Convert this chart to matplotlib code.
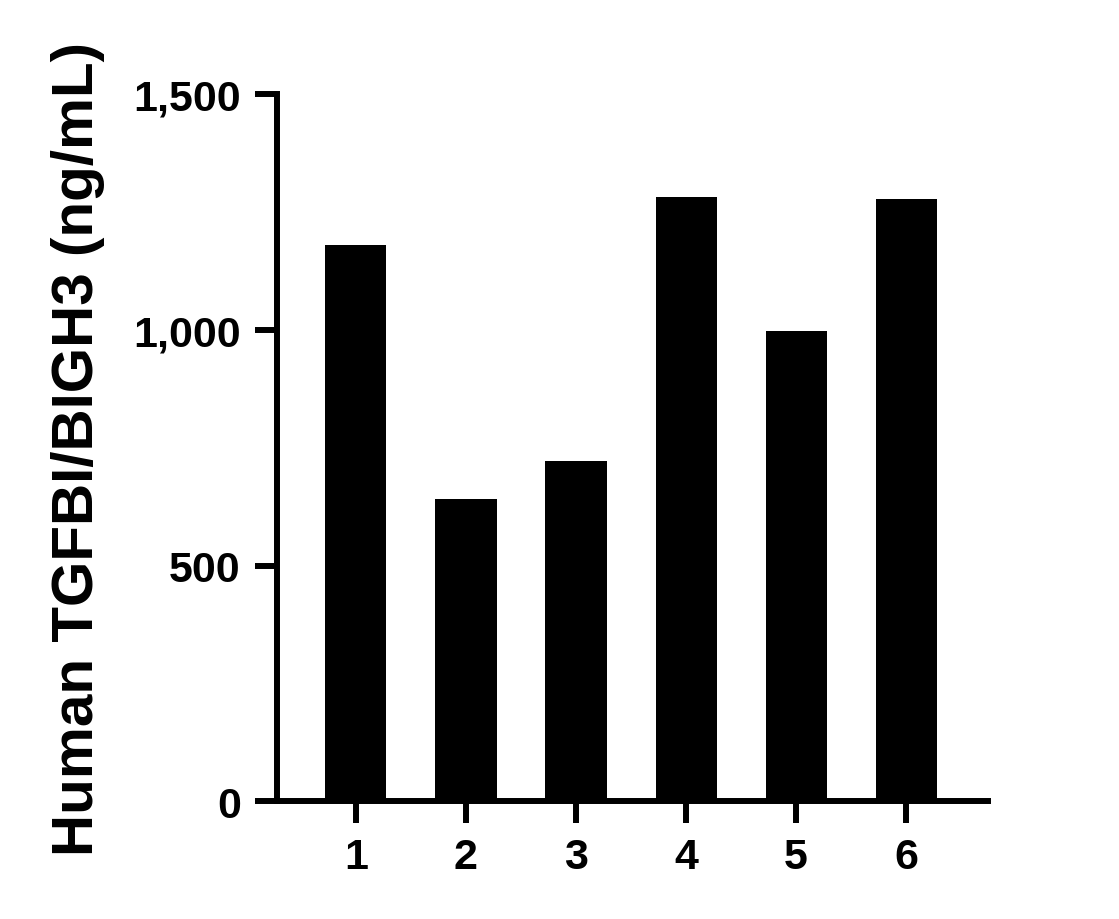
import matplotlib
matplotlib.use('Agg')
import matplotlib.pyplot as plt
from matplotlib.ticker import FuncFormatter

samples = ['1', '2', '3', '4', '5', '6']
positions = [1, 2, 3, 4, 5, 6]
values = [1180, 641, 721, 1282, 997, 1277]
y_ticks = [0, 500, 1000, 1500]

plt.rcParams['font.family'] = ['Liberation Sans', 'DejaVu Sans']
plt.rcParams['font.weight'] = 'bold'

fig = plt.figure(figsize=(11.19, 9.2), dpi=100)
ax = fig.add_axes([0.2475, 0.128, 0.6355, 0.7687])

ax.bar(positions, values, width=0.555, color='black')

ax.set_xlim(0.282, 6.745)
ax.set_ylim(0, 1500)
ax.set_xticks(positions)
ax.set_xticklabels(samples)
ax.set_yticks(y_ticks)
ax.yaxis.set_major_formatter(FuncFormatter(lambda v, p: f'{int(v):,}'))

for side in ['top', 'right']:
    ax.spines[side].set_visible(False)
for side in ['left', 'bottom']:
    ax.spines[side].set_linewidth(4.3)
    ax.spines[side].set_capstyle('projecting')

ax.tick_params(axis='y', length=16, width=4.3, pad=10, labelsize=31)
ax.tick_params(axis='x', length=16, width=4.3, pad=10, labelsize=31)
for lab in ax.get_xticklabels() + ax.get_yticklabels():
    lab.set_fontweight('bold')

ax.set_ylabel('Human TGFBI/BIGH3 (ng/mL)', fontsize=42, fontweight='bold', labelpad=20)

fig.savefig('out.png', dpi=100)
